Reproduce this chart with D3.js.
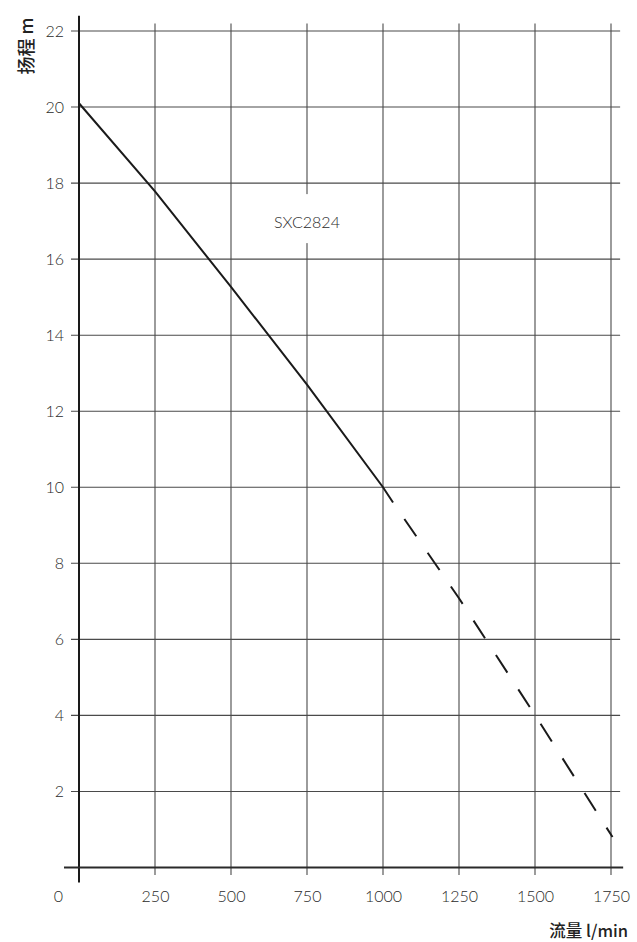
<!DOCTYPE html>
<html>
<head>
<meta charset="utf-8">
<script src="https://cdn.jsdelivr.net/npm/d3@7"></script>
<style>
  html, body { margin: 0; padding: 0; background: #fff; }
  svg { display: block; }
  .tick-label { font-family: Lato, "Open Sans", sans-serif; font-weight: 300; font-size: 16px; fill: #2a2a2a; }
  .axis-title { font-family: "Noto Sans CJK SC", "Noto Sans", sans-serif; fill: #222; }
</style>
</head>
<body>
<script>
// Pump curve: head (m) against flow (l/min)
const flowTicks = [0, 250, 500, 750, 1000, 1250, 1500, 1750];
const headTicks = [2, 4, 6, 8, 10, 12, 14, 16, 18, 20, 22];

// Measured (solid) part of the curve
const solidFlow = [0, 250, 500, 750, 1000, 1033];
const solidHead = [20.1, 17.78, 15.27, 12.7, 10.0, 9.6];

// Extrapolated (dashed) part of the curve
const dashFlow = [1033, 1250, 1500, 1755];
const dashHead = [9.6, 7.08, 4.01, 0.8];

const modelName = "SXC2824";
const modelFlow = 750;
const modelHead = 17;

const W = 637, H = 942;
const svg = d3.select("body").append("svg").attr("width", W).attr("height", H);

const x = d3.scaleLinear().domain([0, 1750]).range([79, 611]);
const y = d3.scaleLinear().domain([0, 22]).range([867.5, 31]);

// Grid
const grid = svg.append("g");
grid.selectAll("line.h").data(headTicks).join("line")
  .attr("class", "h")
  .attr("x1", x(0) - 8).attr("x2", x(1780))
  .attr("y1", d => y(d)).attr("y2", d => y(d))
  .attr("stroke", "#4a4a4a").attr("stroke-width", 1.1);
grid.selectAll("line.v").data(flowTicks.filter(d => d > 0)).join("line")
  .attr("class", "v")
  .attr("x1", d => x(d)).attr("x2", d => x(d))
  .attr("y1", y(22.2)).attr("y2", y(0) + 7.5)
  .attr("stroke", "#4a4a4a").attr("stroke-width", 1.1);

// Knock-out behind the model name
svg.append("rect")
  .attr("x", x(modelFlow) - 40).attr("y", y(modelHead) - 27)
  .attr("width", 80).attr("height", 49)
  .attr("fill", "#fff");

svg.append("text")
  .attr("class", "tick-label")
  .attr("x", x(modelFlow)).attr("y", y(modelHead))
  .attr("text-anchor", "middle").attr("dominant-baseline", "central")
  .text(modelName);

// Axis lines
svg.append("line")
  .attr("x1", x(0)).attr("x2", x(0))
  .attr("y1", y(22.4)).attr("y2", y(0) + 15)
  .attr("stroke", "#1a1a1a").attr("stroke-width", 2);
svg.append("line")
  .attr("x1", x(0) - 15).attr("x2", x(1790))
  .attr("y1", y(0)).attr("y2", y(0))
  .attr("stroke", "#2a2a2a").attr("stroke-width", 2);

// Y tick labels
const yAxis = svg.append("g")
  .attr("transform", `translate(${x(0) - 15},0)`)
  .call(d3.axisLeft(y).tickValues(headTicks).tickSize(0).tickPadding(0));
yAxis.select(".domain").remove();
yAxis.selectAll("text").attr("class", "tick-label").attr("fill", null);

// X tick labels
const xAxis = svg.append("g")
  .attr("transform", `translate(0,${y(0) + 22})`)
  .call(d3.axisBottom(x).tickValues(flowTicks).tickFormat(d3.format("d"))
    .tickSize(0).tickPadding(0));
xAxis.select(".domain").remove();
xAxis.selectAll("text").attr("class", "tick-label").attr("fill", null)
  .attr("dy", "0.75em");
xAxis.selectAll(".tick").filter(d => d === 0)
  .select("text").attr("dx", -21);

// Curve
const line = d3.line().x(d => x(d[0])).y(d => y(d[1]));
svg.append("path")
  .datum(d3.zip(solidFlow, solidHead))
  .attr("d", line)
  .attr("fill", "none").attr("stroke", "#1a1a1a").attr("stroke-width", 2);
svg.append("path")
  .datum(d3.zip(dashFlow, dashHead))
  .attr("d", line)
  .attr("fill", "none").attr("stroke", "#1a1a1a").attr("stroke-width", 2)
  .attr("stroke-dasharray", "21,20").attr("stroke-dashoffset", 21);

// Axis titles
svg.append("text")
  .attr("class", "axis-title")
  .attr("transform", `translate(25,${y(22) + 15}) rotate(-90)`)
  .attr("text-anchor", "middle").attr("dominant-baseline", "central")
  .attr("font-size", 18).attr("font-weight", 500)
  .text("扬程 m");

svg.append("text")
  .attr("class", "axis-title")
  .attr("x", 628).attr("y", 930)
  .attr("text-anchor", "end").attr("dominant-baseline", "central")
  .attr("font-size", 16.5).attr("font-weight", 500)
  .text("流量 l/min");
</script>
</body>
</html>
